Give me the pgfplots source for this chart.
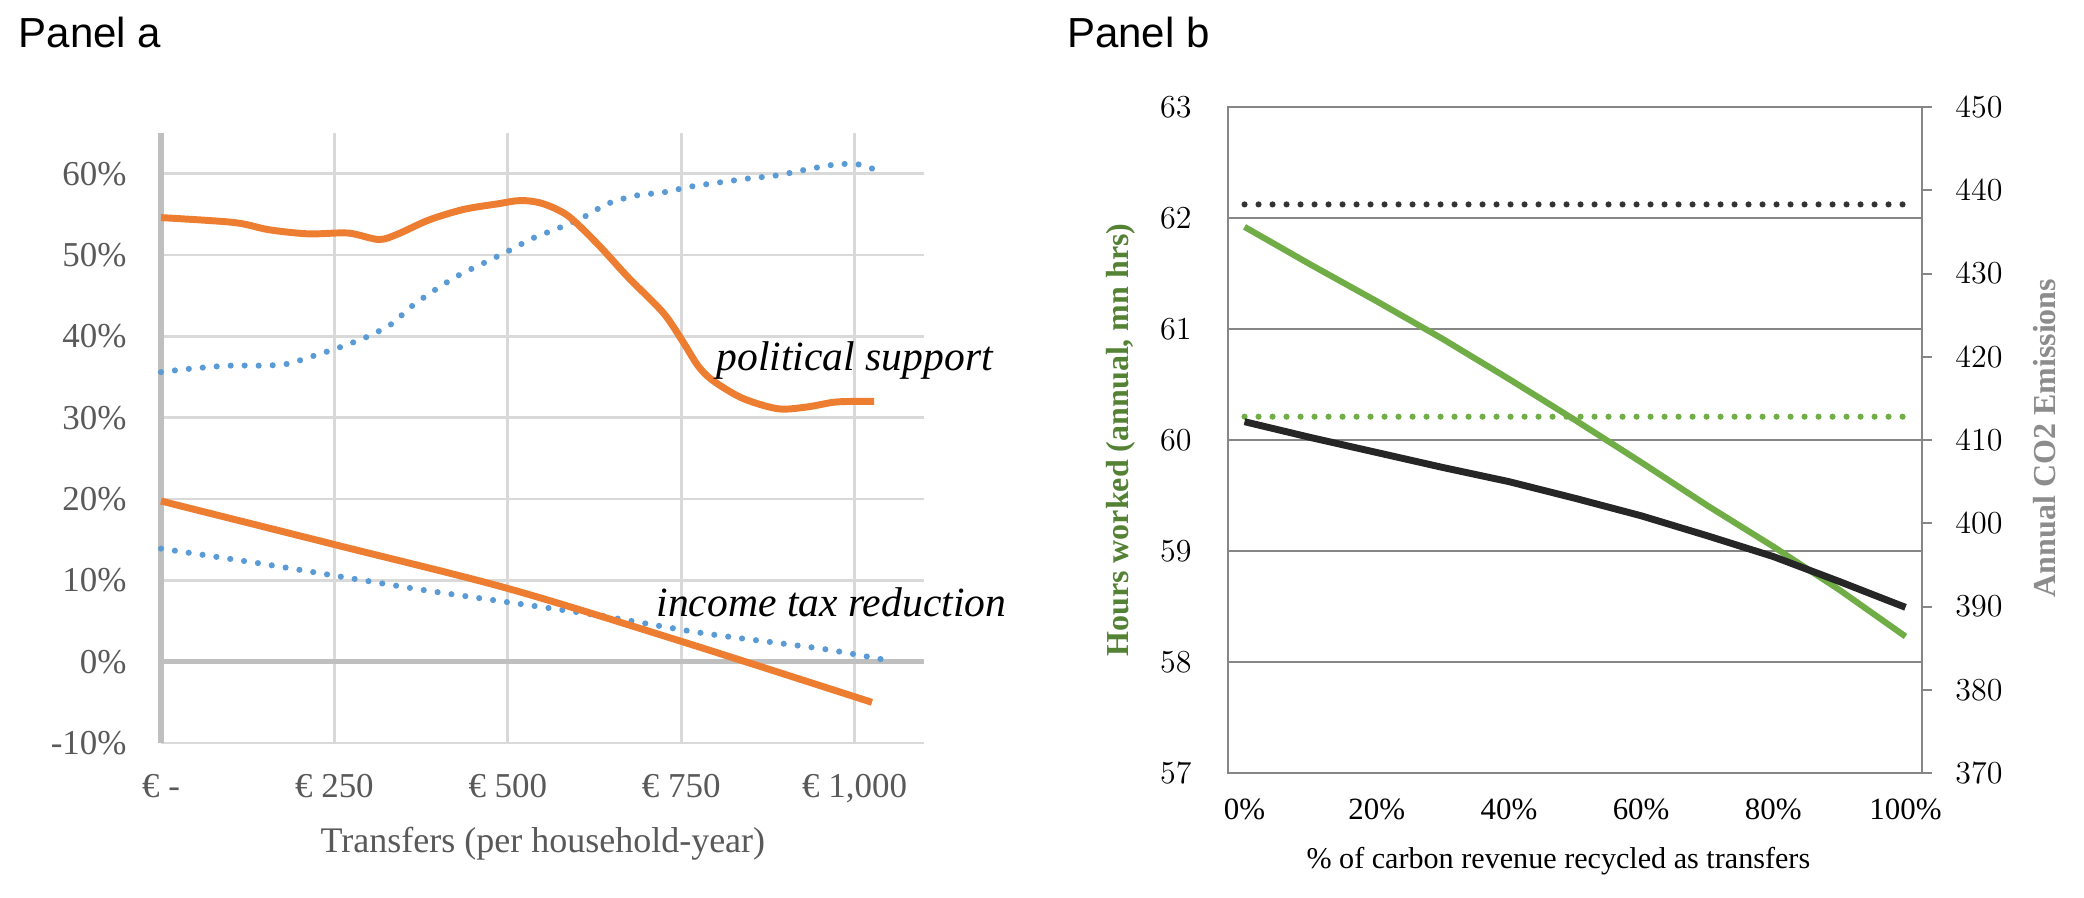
\documentclass[border=0pt]{standalone}
\usepackage{fontspec}
\setmainfont{Liberation Serif}
\newfontfamily\arialfont{Liberation Sans}
\usepackage{pgfplots}
\pgfplotsset{compat=1.18}
\definecolor{orng}{HTML}{ED7D31}
\definecolor{blu}{HTML}{5B9BD5}
\definecolor{gridA}{HTML}{D9D9D9}
\definecolor{spineA}{HTML}{BFBFBF}
\definecolor{txtA}{HTML}{595959}
\definecolor{grn}{HTML}{70AD47}
\definecolor{grnT}{HTML}{548235}
\definecolor{grayB}{HTML}{868686}
\definecolor{grayT}{HTML}{8C8C8C}
\definecolor{blk}{HTML}{262626}
\definecolor{blkd}{HTML}{333333}
\tikzset{dotline/.style={line width=2.3pt, line cap=round, dash pattern=on 0pt off 5.25pt}}
\begin{document}
\begin{tikzpicture}
\path[use as bounding box] (0,0) rectangle (781.5pt,-336.75pt);
% ---------------- Panel a ----------------
\begin{axis}[
  at={(60.375pt,-278.625pt)}, anchor=south west,
  scale only axis, width=286.125pt, height=228.75pt,
  xmin=0, xmax=1100, ymin=-10, ymax=65,
  xtick={0,250,500,750,1000},
  xticklabels={{€ -\hspace{0.55em}},{€ 250},{€ 500},{€ 750},{€ 1,000}},
  ytick={-10,0,10,20,30,40,50,60},
  yticklabels={-10\%,0\%,10\%,20\%,30\%,40\%,50\%,60\%},
  xmajorgrids, ymajorgrids,
  grid style={gridA, line width=1.1pt},
  axis line style={draw=none},
  tick style={draw=none},
  extra y ticks={0}, extra y tick labels={},
  extra y tick style={grid style={spineA, line width=1.9pt}},
  extra x ticks={0}, extra x tick labels={},
  extra x tick style={grid style={spineA, line width=1.9pt}},
  ticklabel style={font=\fontsize{13.1}{15}\selectfont, text=txtA},
  yticklabel style={anchor=east, inner sep=0pt, xshift=-12.75pt},
  xticklabel style={anchor=base, inner sep=0pt, yshift=-20.25pt},
  clip=false,
]
\addplot[blu, dotline, smooth, tension=0.5] coordinates {
(0,35.6) (40,36.0) (98,36.4) (141,36.4) (181,36.6) (220,37.6) (256,38.6) (296,39.9) (332,41.5) (360,43.6) (393,45.6) (429,47.5) (465,49.0) (501,50.5) (537,52.1) (573,53.3) (608,54.6) (644,56.3) (684,57.3) (724,57.7) (763,58.4) (803,58.9) (846,59.4) (889,59.8) (930,60.5) (970,61.1) (1000,61.2) (1020,60.8) (1040,60.1)};
\addplot[blu, dotline, smooth, tension=0.5] coordinates {
(0,13.9) (141,12.1) (256,10.5) (379,8.8) (501,7.3) (630,5.7) (774,3.6) (889,2.3) (960,1.5) (1039,0.3)};
\addplot[orng, line width=2.6pt, smooth, tension=0.5] coordinates {
(0,54.6) (105,54.0) (156,53.1) (213,52.6) (270,52.7) (314,51.9) (342,52.6) (386,54.3) (436,55.6) (486,56.3) (519,56.7) (551,56.3) (587,54.8) (630,51.3) (673,47.3) (724,42.9) (752,39.4) (774,36.4) (795,34.6) (838,32.4) (889,31.1) (930,31.3) (970,31.9) (1000,32.0) (1028,32.0)};
\addplot[orng, line width=2.6pt, smooth, tension=0.5] coordinates {
(0,19.75) (250,14.4) (500,9.0) (750,2.5) (1025,-5.0)};
\end{axis}
% ---------------- Panel b (left axis) ----------------
\begin{axis}[
  at={(460.5pt,-289.875pt)}, anchor=south west,
  scale only axis, width=260.25pt, height=249.75pt,
  xmin=-2.5, xmax=102.5, ymin=57, ymax=63,
  xtick={0,20,40,60,80,100},
  xticklabels={0\%,20\%,40\%,60\%,80\%,100\%},
  ytick={57,58,59,60,61,62,63},
  ymajorgrids, grid style={grayB, line width=0.75pt},
  axis line style={grayB, line width=0.75pt},
  major x tick style={draw=none},
  ytick style={draw=none},
  extra x ticks={17.5,37.5,57.5,77.5,97.5}, extra x tick labels={},
  extra x tick style={tick style={grayB, line width=0.75pt}, major tick length=3pt, tick align=inside},
  xtick pos=bottom, ytick pos=left,
  ticklabel style={font=\fontsize{11.6}{14}\selectfont, text=black},
  yticklabel style={anchor=east, inner sep=0pt, xshift=-13.5pt},
  xticklabel style={anchor=base, inner sep=0pt, yshift=-17.25pt},
]
\addplot[grn, dotline] coordinates {(0,60.21) (100,60.21)};
\addplot[grn, line width=2.3pt] coordinates {
(0,61.92) (10,61.58) (20,61.25) (30,60.91) (40,60.55) (50,60.18) (60,59.80) (70,59.41) (80,59.04) (90,58.65) (100,58.23)};
\end{axis}
% ---------------- Panel b (right axis) ----------------
\begin{axis}[
  at={(460.5pt,-289.875pt)}, anchor=south west,
  scale only axis, width=260.25pt, height=249.75pt,
  xmin=-2.5, xmax=102.5, ymin=370, ymax=450,
  axis x line=none, axis y line*=right,
  axis line style={grayB, line width=0.75pt},
  ytick={370,380,...,450},
  ytick align=outside, major tick length=3.75pt,
  ytick style={grayB, line width=0.75pt},
  ticklabel style={font=\fontsize{11.6}{14}\selectfont, text=black},
  yticklabel style={anchor=west, inner sep=0pt, xshift=8.6pt},
]
\addplot[blkd, dotline] coordinates {(0,438.3) (100,438.3)};
\addplot[blk, line width=2.6pt] coordinates {
(0,412.2) (10,410.3) (20,408.5) (30,406.7) (40,405.0) (50,403.0) (60,400.9) (70,398.5) (80,396.0) (90,393.0) (100,389.9)};
\end{axis}
% ---------------- Texts ----------------
\node[anchor=base west, inner sep=0pt, font=\arialfont\fontsize{15.75}{18}\selectfont] at (6.8pt,-18pt) {Panel a};
\node[anchor=base west, inner sep=0pt, font=\arialfont\fontsize{15.75}{18}\selectfont] at (400pt,-18pt) {Panel b};
\node[anchor=base west, inner sep=0pt, font=\itshape\fontsize{15.6}{18}\selectfont] at (268.5pt,-139.1pt) {political support};
\node[anchor=base west, inner sep=0pt, font=\itshape\fontsize{15.6}{18}\selectfont] at (246pt,-231pt) {income tax reduction};
\node[anchor=base, inner sep=0pt, text=txtA, font=\fontsize{13.5}{16}\selectfont] at (203.6pt,-319.5pt) {Transfers (per household-year)};
\node[anchor=base west, inner sep=0pt, font=\fontsize{11.3}{14}\selectfont] at (489.75pt,-325.5pt) {\% of carbon revenue recycled as transfers};
\node[rotate=90, inner sep=0pt, text=grnT, font=\bfseries\fontsize{12}{14}\selectfont] at (420.4pt,-165pt) {Hours worked (annual, mn hrs)};
\node[rotate=90, inner sep=0pt, text=grayT, font=\bfseries\fontsize{12}{14}\selectfont] at (766.9pt,-164.25pt) {Annual CO2 Emissions};
\end{tikzpicture}
\end{document}
